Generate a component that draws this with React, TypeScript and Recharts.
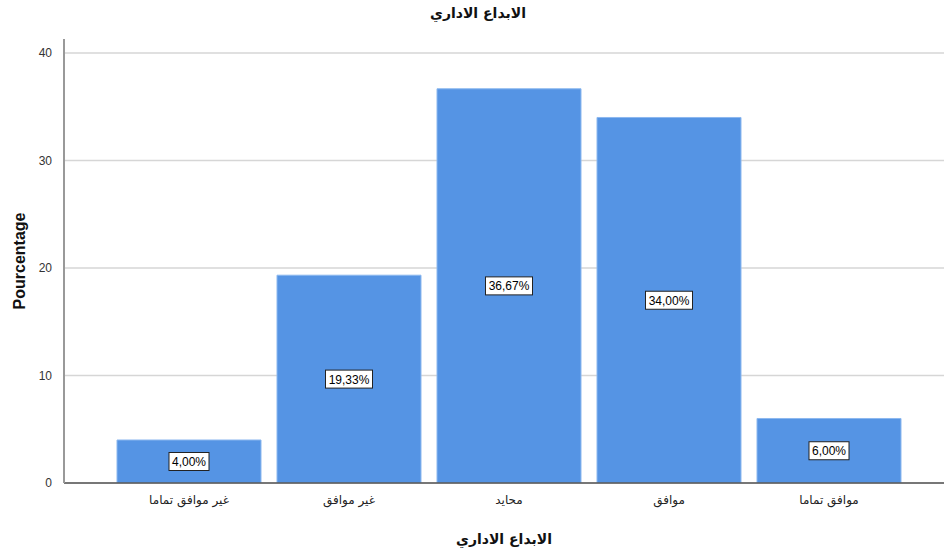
import React from "react";
import { BarChart, Bar, XAxis, YAxis, CartesianGrid, LabelList, Label } from "recharts";

const categories = ["غير موافق تماما", "غير موافق", "محايد", "موافق", "موافق تماما"];
const percentages = [4.0, 19.33, 36.67, 34.0, 6.0];
const yTicks = [0, 10, 20, 30, 40];

const chartTitle = "الابداع الاداري";
const xTitle = "الابداع الاداري";
const yTitle = "Pourcentage";

const data = categories.map((name, i) => ({ name, value: percentages[i] }));

const fmt = (v: number) => v.toFixed(2).replace(".", ",") + "%";

const ValueBox = (props: any) => {
  const { x, y, width, height, value } = props;
  const cx = x + width / 2;
  const cy = y + height / 2;
  const text = fmt(value);
  const w = text.length * 7 + 5;
  const h = 18;
  return (
    <g>
      <rect x={cx - w / 2} y={cy - h / 2} width={w} height={h} fill="#ffffff" stroke="#222" strokeWidth={1} />
      <text x={cx} y={cy + 4.5} textAnchor="middle" fontSize={12} fontFamily="Arial, 'Liberation Sans', sans-serif" fill="#000">
        {text}
      </text>
    </g>
  );
};

export default function App() {
  return (
    <div style={{ position: "absolute", left: 0, top: 0, width: 944, height: 552, background: "#fff" }}>
      <div
        style={{
          position: "absolute",
          left: 0,
          top: 5,
          width: 956,
          textAlign: "center",
          fontFamily: "'DejaVu Sans', Arial, sans-serif",
          fontWeight: "bold",
          fontSize: 14,
          color: "#111",
        }}
      >
        {chartTitle}
      </div>
      <BarChart
        width={944}
        height={552}
        data={data}
        margin={{ top: 39, right: 0, bottom: 0, left: 0 }}
        barCategoryGap={8}
      >
        <CartesianGrid vertical={false} horizontalValues={yTicks} stroke="#d6d6d6" strokeWidth={1.5} />
        <XAxis
          dataKey="name"
          height={69}
          padding={{ left: 45, right: 35 }}
          tickLine={false}
          axisLine={{ stroke: "#555", strokeWidth: 1.5 }}
          tick={{ fill: "#222", fontSize: 12, fontFamily: "'DejaVu Sans', Arial, sans-serif" }}
          tickMargin={6}
          interval={0}
        >
          <Label
            value={xTitle}
            position="insideBottom"
            offset={8}
            style={{ fontSize: 14, fontWeight: "bold", fill: "#111", fontFamily: "'DejaVu Sans', Arial, sans-serif" }}
          />
        </XAxis>
        <YAxis
          width={64}
          domain={[0, 41.3]}
          ticks={yTicks}
          allowDataOverflow
          tickLine={false}
          axisLine={{ stroke: "#999", strokeWidth: 2 }}
          tick={{ fill: "#333", fontSize: 12, fontFamily: "Arial, 'Liberation Sans', sans-serif" }}
          tickMargin={6}
        >
          <Label
            value={yTitle}
            angle={-90}
            position="insideLeft"
            offset={19}
            style={{ textAnchor: "middle", fontSize: 16, fontWeight: "bold", fill: "#111", fontFamily: "Arial, 'Liberation Sans', sans-serif" }}
          />
        </YAxis>
        <Bar dataKey="value" fill="#5594e4" stroke="#8cb8ef" strokeWidth={1} isAnimationActive={false}>
          <LabelList dataKey="value" content={ValueBox} />
        </Bar>
      </BarChart>
    </div>
  );
}
